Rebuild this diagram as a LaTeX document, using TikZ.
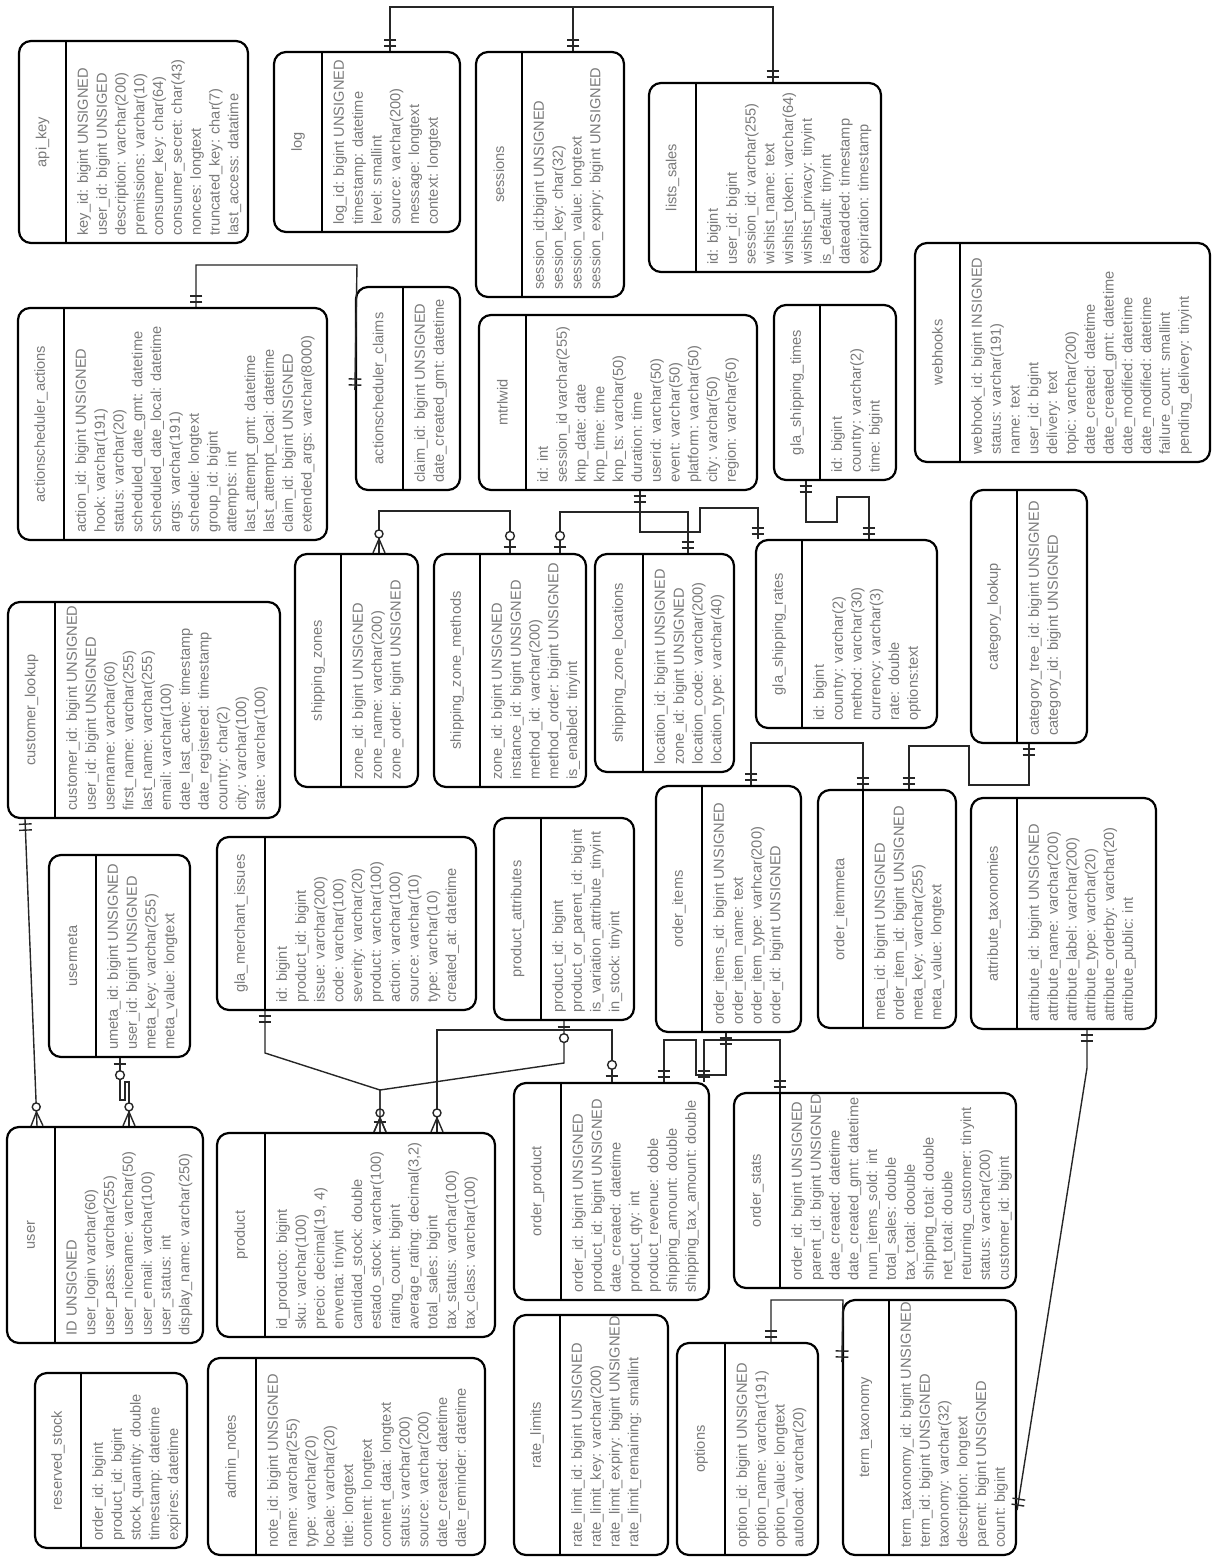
\documentclass[tikz,border=0pt]{standalone}
\usepackage{fontspec}
\setmainfont{Liberation Sans}
\usepackage{tikz}
\usetikzlibrary{fit,decorations.markings}
\tikzset{
  entbox/.style={draw, line width=1.1pt, rounded corners=6pt, inner sep=0pt},
  entdiv/.style={line width=1.1pt},
  enttitle/.style={font=\fontsize{7.3}{9.4}\selectfont, text=black!52, rotate=90, inner sep=0pt},
  entfields/.style={font=\fontsize{7.3}{9.4}\selectfont, text=black!52, rotate=90, anchor=north west, align=left, inner sep=0pt},
  rel/.style={draw=black!85, line width=0.7pt},
  mk/.style={draw=black!85, line width=0.7pt},
  one start/.style={postaction={decorate, decoration={markings,
      mark=at position 2.5pt with {\draw[mk] (0,-3.2pt) -- (0,3.2pt);},
      mark=at position 5.5pt with {\draw[mk] (0,-3.2pt) -- (0,3.2pt);}}}},
  one end/.style={postaction={decorate, decoration={markings,
      mark=at position -2.5pt with {\draw[mk] (0,-3.2pt) -- (0,3.2pt);},
      mark=at position -5.5pt with {\draw[mk] (0,-3.2pt) -- (0,3.2pt);}}}},
  zone start/.style={postaction={decorate, decoration={markings,
      mark=at position 3pt with {\draw[mk] (0,-3.2pt) -- (0,3.2pt);},
      mark=at position 8.5pt with {\draw[mk, fill=white] (0,0) circle (2.2pt);}}}},
  zone end/.style={postaction={decorate, decoration={markings,
      mark=at position -3pt with {\draw[mk] (0,-3.2pt) -- (0,3.2pt);},
      mark=at position -8.5pt with {\draw[mk, fill=white] (0,0) circle (2.2pt);}}}},
  zmany start/.style={postaction={decorate, decoration={markings,
      mark=at position 7pt with {\draw[mk] (-7pt,3pt) -- (0,0) -- (-7pt,-3pt);},
      mark=at position 9.5pt with {\draw[mk, fill=white] (0,0) circle (2pt);}}}},
  zmany end/.style={postaction={decorate, decoration={markings,
      mark=at position -7pt with {\draw[mk] (7pt,3pt) -- (0,0) -- (7pt,-3pt);},
      mark=at position -9.5pt with {\draw[mk, fill=white] (0,0) circle (2pt);}}}},
  omany end/.style={postaction={decorate, decoration={markings,
      mark=at position -7pt with {\draw[mk] (7pt,3pt) -- (0,0) -- (7pt,-3pt);},
      mark=at position -5pt with {\draw[mk] (0,-3.2pt) -- (0,3.2pt);}}}},
}
% table: name, x1, y1, x2, y2, divider x, title, fields
\newcommand{\erent}[8]{%
  \node[entbox, fit={(#2,#3) (#4,#5)}] (#1) {};
  \draw[entdiv] (#6,#3) -- (#6,#5);
  \node[enttitle] (#1-t) at ({(#2+#6)/2},{(#3+#5)/2}) {#7};
  \node[entfields] (#1-f) at ({#6+11},{#5-7}) {#8};
}

\begin{document}
\begin{tikzpicture}[x=0.5pt, y=-0.5pt]
  \useasboundingbox[fill=white] (0,0) rectangle (1212,1558);

  % top row
  \erent{apikey}{19}{41}{248}{243}{66}{api\_key}{key\_id: bigint UNSIGNED\\user\_id: bigint UNSIGED\\description: varchar(200)\\premissions: varchar(10)\\consumer\_key: char(64)\\consumer\_secret: char(43)\\nonces: longtext\\truncated\_key: char(7)\\last\_access: datatime}
  \erent{log}{274}{52}{460}{232}{322}{log}{log\_id: bigint UNSIGNED\\timestamp: datetime\\level: smallint\\source: varchar(200)\\message: longtext\\context: longtext}
  \erent{sessions}{476}{52}{624}{297}{522}{sessions}{session\_id:bigint UNSIGNED\\session\_key: char(32)\\session\_value: longtext\\session\_expiry: bigint UNSIGNED}
  \erent{lists}{649}{83}{881}{272}{696}{lists\_sales}{id: bigint\\user\_id: bigint\\session\_id: varchar(255)\\wishist\_name: text\\wishist\_token: varchar(64)\\wishist\_privacy: tinyint\\is\_default: tinyint\\dateadded: timestamp\\expiration: timestamp}
  \erent{webhooks}{915}{243}{1210}{462}{960}{webhooks}{webhook\_id: bigint INSIGNED\\status: varchar(191)\\name: text\\user\_id: bigint\\delivery: text\\topic: varchar(200)\\date\_created: datetime\\date\_created\_gmt: datetime\\date\_modified: datetime\\date\_modified: datetime\\failure\_count: smallint\\pending\_delivery: tinyint}

  % second row
  \erent{asactions}{18}{308}{327}{540}{64}{actionscheduler\_actions}{action\_id: bigint UNSIGNED\\hook: varchar(191)\\status: varchar(20)\\scheduled\_date\_gmt: datetime\\scheduled\_date\_local: datetime\\args: varchar(191)\\schedule: longtext\\group\_id: bigint\\attempts: int\\last\_attempt\_gmt: datetime\\last\_attempt\_local: datetime\\claim\_id: bigint UNSIGNED\\extended\_args: varchar(8000)}
  \erent{asclaims}{356}{287}{460}{490}{403}{actionscheduler\_claims}{claim\_id: bigint UNSIGNED\\date\_created\_gmt: datetime}
  \erent{mtrlwid}{479}{315}{757}{490}{526}{mtrlwid}{id: int\\session\_id varchar(255)\\knp\_date: date\\knp\_time: time\\knp\_ts: varchar(50)\\duration: time\\userid: varchar(50)\\event: varchar(50)\\platform: varchar(50)\\city: varchar(50)\\region: varchar(50)}
  \erent{glatimes}{774}{305}{896}{480}{820}{gla\_shipping\_times}{id: bigint\\country: varchar(2)\\time: bigint}

  % third row
  \erent{custlookup}{8}{602}{280}{818}{55}{customer\_lookup}{customer\_id: bigint UNSIGNED\\user\_id: bigint UNSIGNED\\username: varchar(60)\\first\_name: varchar(255)\\last\_name: varchar(255)\\email: varchar(100)\\date\_last\_active: timestamp\\date\_registered: timestamp\\country: char(2)\\city: varchar(100)\\state: varchar(100)}
  \erent{shipzones}{295}{554}{418}{787}{341}{shipping\_zones}{zone\_id: bigint UNSIGNED\\zone\_name: varchar(200)\\zone\_order: bigint UNSIGNED}
  \erent{shipmethods}{434}{554}{586}{787}{480}{shipping\_zone\_methods}{zone\_id: bigint UNSIGNED\\instance\_id: bigint UNSIGNED\\method\_id: varchar(200)\\method\_order: bigint UNSIGNED\\is\_enabled: tinyint}
  \erent{shiplocs}{595}{554}{734}{772}{643}{shipping\_zone\_locations}{location\_id: bigint UNSIGNED\\zone\_id: bigint UNSIGNED\\location\_code: varchar(200)\\location\_type: varchar(40)}
  \erent{glarates}{756}{540}{937}{728}{802}{gla\_shipping\_rates}{id: bigint\\country: varchar(2)\\method: varchar(30)\\currency: varchar(3)\\rate: double\\options:text}
  \erent{catlookup}{971}{490}{1087}{743}{1017}{category\_lookup}{category\_tree\_id: bigint UNSIGNED\\category\_id: bigint UNSIGNED}

  % fourth row
  \erent{usermeta}{49}{855}{190}{1057}{96}{usermeta}{umeta\_id: bigint UNSIGNED\\user\_id: bigint UNSIGNED\\meta\_key: varchar(255)\\meta\_value: longtext}
  \erent{glaissues}{217}{837}{476}{1010}{265}{gla\_merchant\_issues}{id: bigint\\product\_id: bigint\\issue: varchar(200)\\code: varchar(100)\\severity: varchar(20)\\product: varchar(100)\\action: varchar(100)\\source: varchar(10)\\type: varchar(10)\\created\_at: datetime}
  \erent{prodattr}{494}{818}{634}{1020}{541}{product\_attributes}{product\_id: bigint\\product\_or\_parent\_id: bigint\\is\_variation\_attribute\_tinyint\\in\_stock: tinyint}
  \erent{orditems}{656}{786}{801}{1032}{702}{order\_items}{order\_items\_id: bigint UNSIGNED\\order\_item\_name: text\\order\_item\_type: varhcar(200)\\order\_id: bigint UNSIGNED}
  \erent{orditemmeta}{818}{790}{956}{1028}{863}{order\_itemmeta}{meta\_id: bigint UNSIGNED\\order\_item\_id: bigint UNSIGNED\\meta\_key: varchar(255)\\meta\_value: longtext}
  \erent{attrtax}{971}{798}{1156}{1029}{1017}{attribute\_taxonomies}{attribute\_id: bigint UNSIGNED\\attribute\_name: varchar(200)\\attribute\_label: varchar(200)\\attribute\_type: varchar(20)\\attribute\_orderby: varchar(20)\\attribute\_public: int}

  % fifth row
  \erent{user}{7}{1127}{203}{1343}{55}{user}{ID UNSIGNED\\user\_login varchar(60)\\user\_pass: varchar(255)\\user\_nicename: varchar(50)\\user\_email: varchar(100)\\user\_status: int\\display\_name: varchar(250)}
  \erent{product}{217}{1133}{495}{1337}{265}{product}{id\_producto: bigint\\sku: varchar(100)\\precio: decimal(19, 4)\\enventa: tinyint\\cantidad\_stock: double\\estado\_stock: varchar(100)\\rating\_count: bigint\\average\_rating: decimal(3,2)\\total\_sales: bigint\\tax\_status: varchar(100)\\tax\_class: varchar(100)}
  \erent{ordproduct}{514}{1083}{709}{1300}{561}{order\_product}{order\_id: bigint UNSIGNED\\product\_id: bigint UNSIGNED\\date\_created: datetime\\product\_qty: int\\product\_revenue: doble\\shipping\_amount: double\\shipping\_tax\_amount: double}
  \erent{ordstats}{734}{1093}{1016}{1288}{780}{order\_stats}{order\_id: bigint UNSIGNED\\parent\_id: bigint UNSIGNED\\date\_created: datetime\\date\_created\_gmt: datetime\\num\_items\_sold: int\\total\_sales: double\\tax\_total: doouble\\shipping\_total: double\\net\_total: double\\returning\_customer: tinyint\\status: varchar(200)\\customer\_id: bigint}

  % bottom row
  \erent{reserved}{35}{1373}{187}{1548}{81}{reserved\_stock}{order\_id: bigint\\product\_id: bigint\\stock\_quantity: double\\timestamp: datetime\\expires: datetime}
  \erent{adminnotes}{208}{1358}{485}{1555}{256}{admin\_notes}{note\_id: bigint UNSIGNED\\name: varchar(255)\\type: varchar(20)\\locale: varchar(20)\\title: longtext\\content: longtext\\content\_data: longtext\\status: varchar(200)\\source: varchar(200)\\date\_created: datetime\\date\_reminder: datetime}
  \erent{ratelimits}{514}{1315}{668}{1555}{560}{rate\_limits}{rate\_limit\_id: bigint UNSIGNED\\rate\_limit\_key: varchar(200)\\rate\_limit\_expiry: bigint UNSIGNED\\rate\_limit\_remaining: smallint}
  \erent{options}{677}{1343}{818}{1555}{725}{options}{option\_id: bigint UNSIGNED\\option\_name: varchar(191)\\option\_value: longtext\\autoload: varchar(20)}
  \erent{termtax}{843}{1300}{1016}{1555}{889}{term\_taxonomy}{term\_taxonomy\_id: bigint UNSIGNED\\term\_id: bigint UNSIGNED\\taxonomy: varchar(32)\\description: longtext\\parent: bigint UNSIGNED\\count: bigint}

  % relations
  \draw[rel, one start, one end] (log.north -| 390,0) |- (773,7) -- (lists.north -| 773,0);
  \draw[rel, one start] (sessions.north -| 573,0) -- (573,7);
  \draw[rel, one start, one end] (asactions.north -| 196,0) |- (357,265) -- (asclaims.west |- 0,390);
  \draw[rel, one start, one end] (mtrlwid.south -| 640,0) |- (700,532) |- (758,508) -- (glarates.north -| 758,0);
  \draw[rel, zone start, one end] (shipmethods.north -| 560,0) |- (688,512) -- (shiplocs.north -| 688,0);
  \draw[rel, zmany start, zone end] (shipzones.north -| 379,0) |- (510,511) -- (shipmethods.north -| 510,0);
  \draw[rel, one start, one end] (glatimes.south -| 806,0) |- (837,522) |- (869,497) -- (glarates.north -| 869,0);
  \draw[rel, one start, one end] (catlookup.south -| 1029,0) |- (969,785) |- (909,746) -- (orditemmeta.north -| 909,0);
  \draw[rel, one start, one end] (orditems.north -| 751,0) |- (863,743) -- (orditemmeta.north -| 863,0);
  \draw[rel, one start, zmany end] (custlookup.south -| 25,0) -- (user.north -| 37,0);
  \draw[rel, zone start, zmany end] (usermeta.south -| 120,0) -- (120,1100) -- (125,1100) -- (125,1082) -- (129,1082) -- (user.north -| 129,0);
  \draw[rel, one start, zmany end] (glaissues.south -| 265,0) -- (265,1053) -- (380,1090) -- (product.north -| 380,0);
  \draw[rel, zone start, omany end] (prodattr.south -| 564,0) -- (564,1063) -- (380,1090) -- (product.north -| 380,0);
  \draw[rel, zmany start, zone end] (product.north -| 437,0) |- (612,1030) -- (ordproduct.north -| 612,0);
  \draw[rel, one start, one end] (orditems.south -| 726,0) |- (696,1075) |- (664,1040) -- (ordproduct.north -| 664,0);
  \draw[rel, one start, one end] (ordproduct.north -| 704,0) |- (780,1040) -- (ordstats.north -| 780,0);
  \draw[rel, one start, one end] (attrtax.south -| 1087,0) -- (1087,1068) -- (termtax.east |- 0,1510);
  \draw[rel, one start, one end] (options.north -| 771,0) |- (843,1300) -- (termtax.west |- 0,1362);
\end{tikzpicture}
\end{document}
